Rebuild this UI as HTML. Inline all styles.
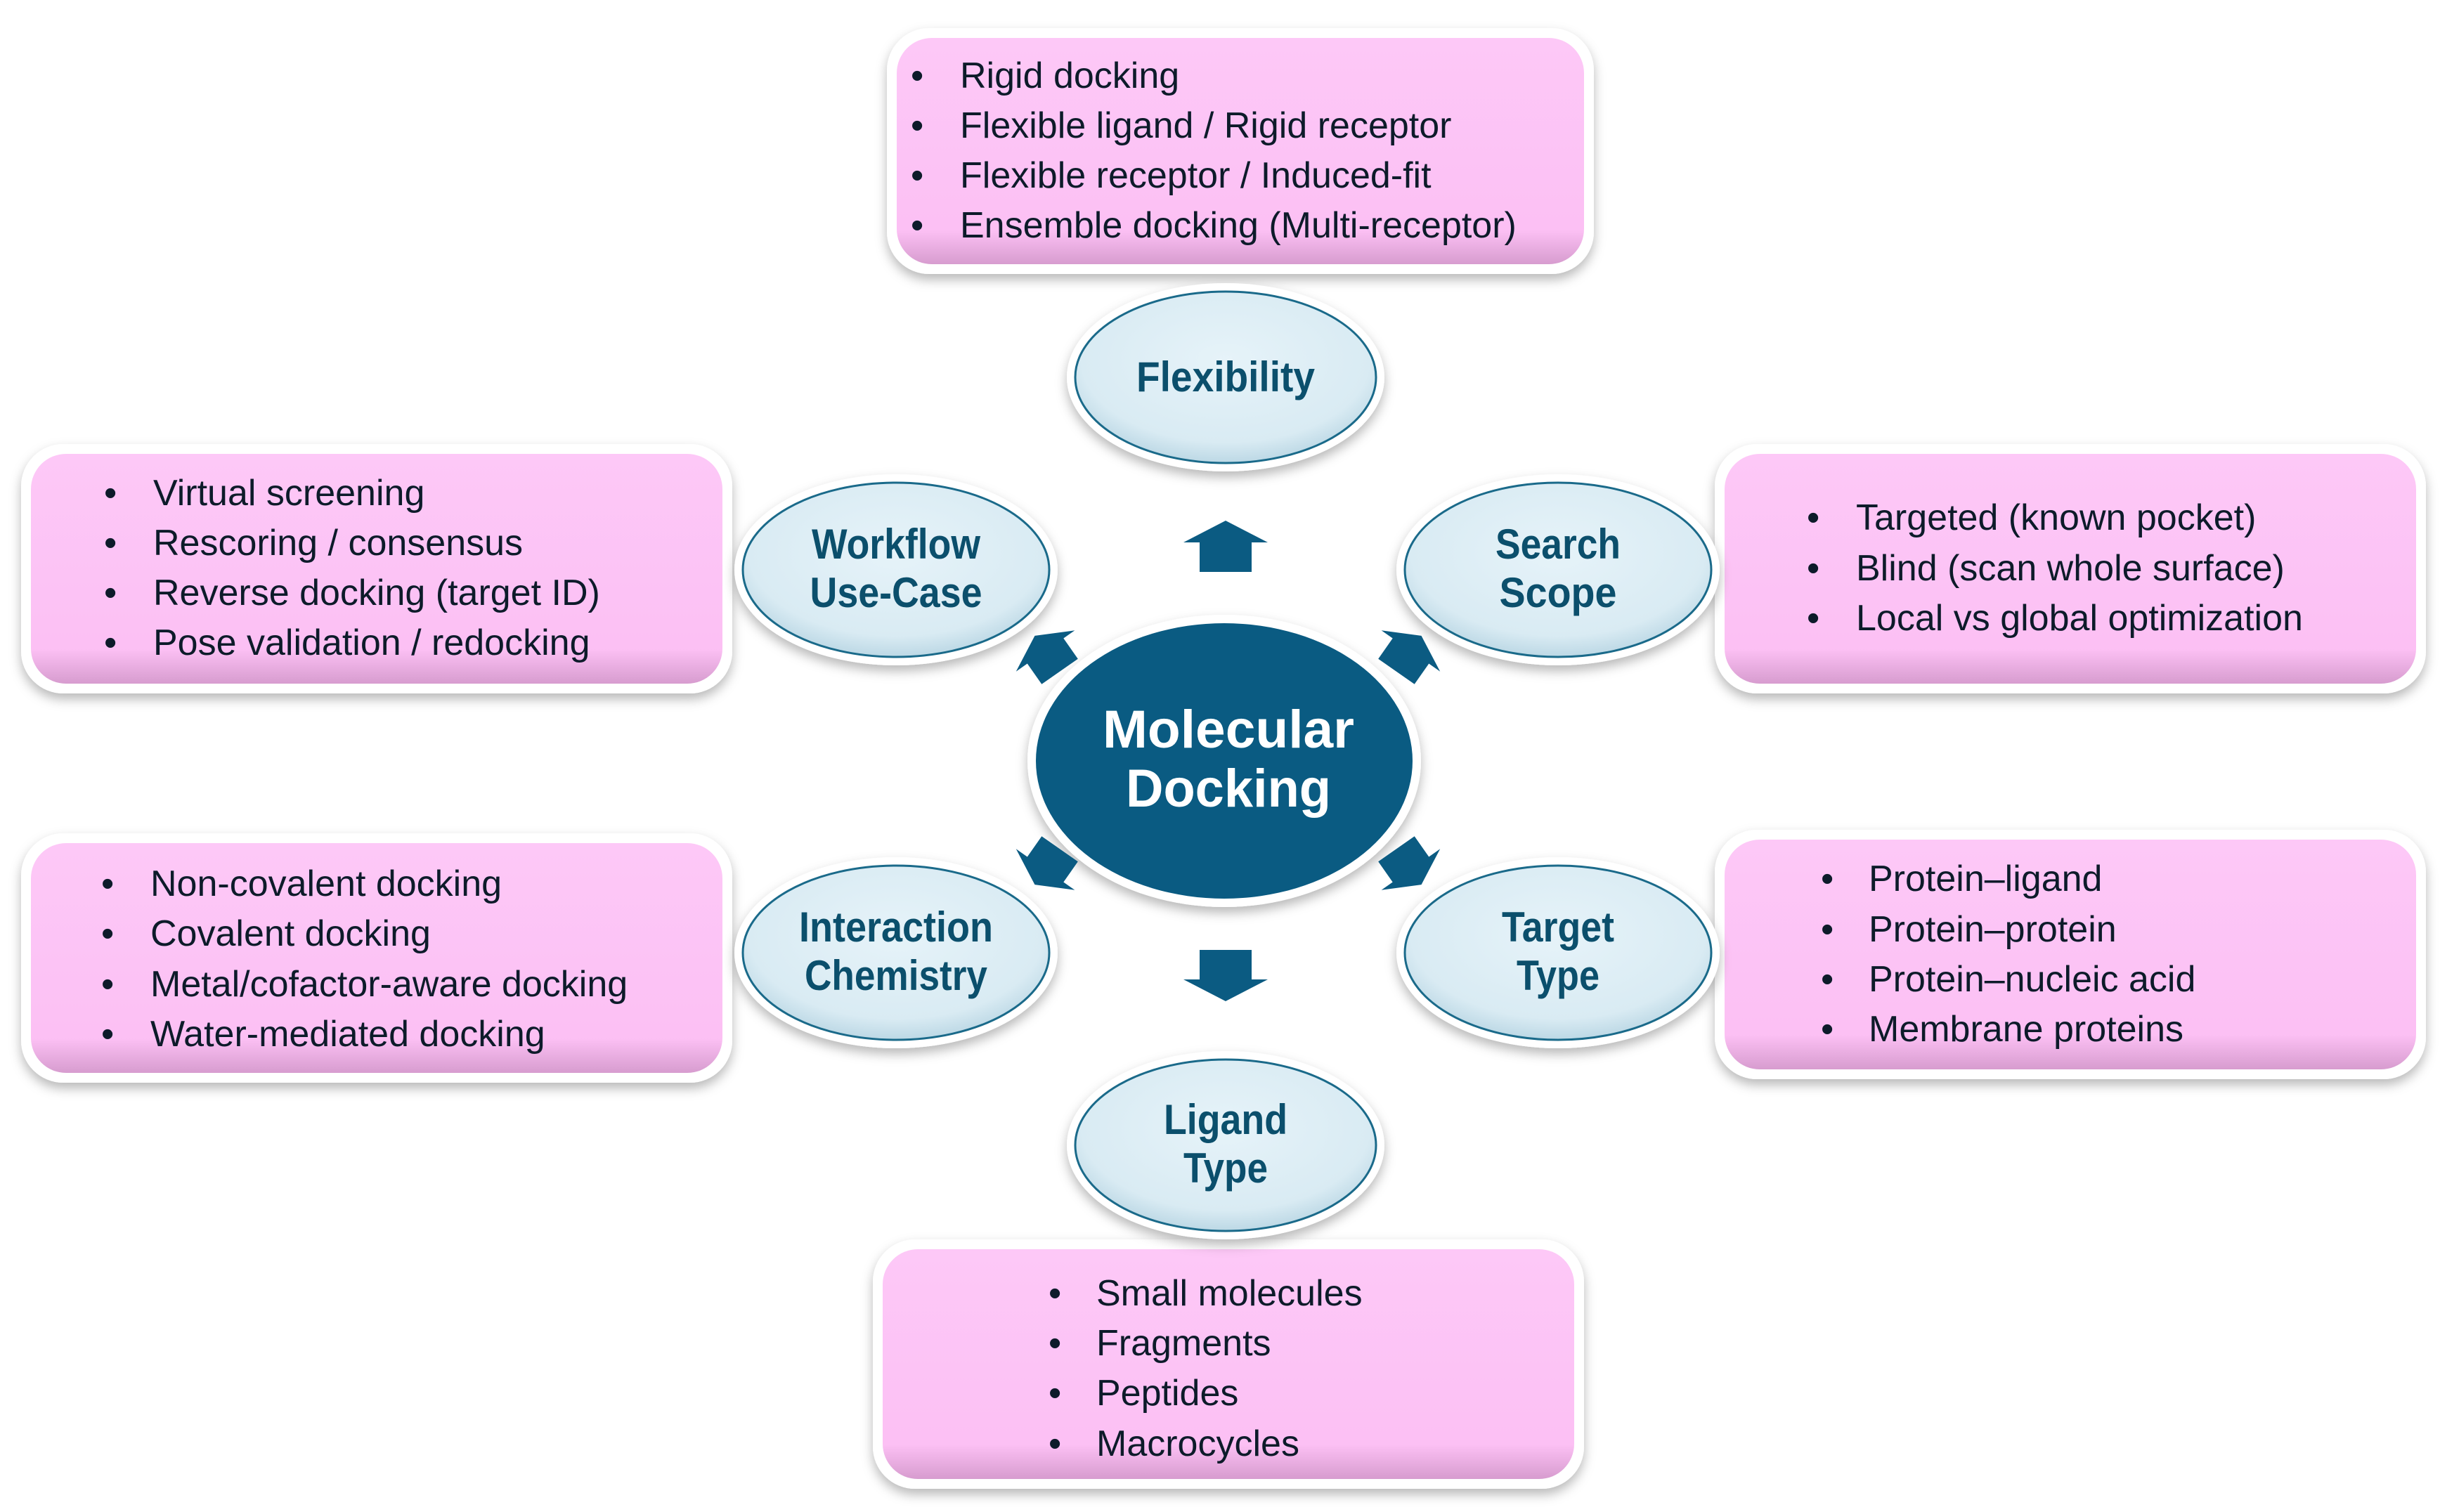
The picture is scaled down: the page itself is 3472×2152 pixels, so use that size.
<!DOCTYPE html>
<html><head><meta charset="utf-8"><style>
html,body{margin:0;padding:0;background:#fff;}
svg{display:block;}
.b{font-family:"Liberation Sans",sans-serif;font-size:52px;fill:#0d1b2a;}
.l{font-family:"Liberation Sans",sans-serif;font-weight:bold;font-size:60px;fill:#0b4f6c;}
.c{font-family:"Liberation Sans",sans-serif;font-weight:bold;font-size:76px;fill:#fff;}
</style></head><body>
<svg width="3472" height="2152" viewBox="0 0 3472 2152" xmlns="http://www.w3.org/2000/svg">
<defs>
<filter id="sh" x="-10%" y="-10%" width="120%" height="130%"><feDropShadow dx="0" dy="8" stdDeviation="8" flood-color="#000" flood-opacity="0.28"/></filter>
<linearGradient id="pk" x1="0" y1="0" x2="0" y2="1"><stop offset="0" stop-color="#fdc8f7"/><stop offset="0.85" stop-color="#fcc0f4"/><stop offset="1" stop-color="#d79ccf"/></linearGradient>
<radialGradient id="bl" cx="0.5" cy="0.4" r="0.6"><stop offset="0" stop-color="#e6f3f9"/><stop offset="0.8" stop-color="#d9ebf3"/><stop offset="1" stop-color="#bcd8e5"/></radialGradient>
<g id="arr"><polygon points="0,-36 60,-5 37,-5 37,37 -37,37 -37,-5 -60,-5" fill="#0b5b82"/></g>
</defs>

<!-- boxes -->
<g filter="url(#sh)">
<rect x="1262" y="40" width="1006" height="350" rx="60" fill="#fff"/>
<rect x="30" y="632" width="1012" height="355" rx="60" fill="#fff"/>
<rect x="30" y="1186" width="1012" height="355" rx="60" fill="#fff"/>
<rect x="2440" y="632" width="1012" height="355" rx="60" fill="#fff"/>
<rect x="2440" y="1181" width="1012" height="355" rx="60" fill="#fff"/>
<rect x="1242" y="1764" width="1012" height="355" rx="60" fill="#fff"/>
</g>
<rect x="1276" y="54" width="978" height="322" rx="50" fill="url(#pk)"/>
<rect x="44" y="646" width="984" height="327" rx="50" fill="url(#pk)"/>
<rect x="44" y="1200" width="984" height="327" rx="50" fill="url(#pk)"/>
<rect x="2454" y="646" width="984" height="327" rx="50" fill="url(#pk)"/>
<rect x="2454" y="1195" width="984" height="327" rx="50" fill="url(#pk)"/>
<rect x="1256" y="1778" width="984" height="327" rx="50" fill="url(#pk)"/>

<!-- box text -->
<g class="b">
<text x="1296" y="125">•</text><text x="1366" y="125">Rigid docking</text>
<text x="1296" y="196">•</text><text x="1366" y="196">Flexible ligand / Rigid receptor</text>
<text x="1296" y="267">•</text><text x="1366" y="267">Flexible receptor / Induced-fit</text>
<text x="1296" y="338">•</text><text x="1366" y="338">Ensemble docking (Multi-receptor)</text>

<text x="148" y="719">•</text><text x="218" y="719">Virtual screening</text>
<text x="148" y="790">•</text><text x="218" y="790">Rescoring / consensus</text>
<text x="148" y="861">•</text><text x="218" y="861">Reverse docking (target ID)</text>
<text x="148" y="932">•</text><text x="218" y="932">Pose validation / redocking</text>

<text x="144" y="1275">•</text><text x="214" y="1275">Non-covalent docking</text>
<text x="144" y="1346">•</text><text x="214" y="1346">Covalent docking</text>
<text x="144" y="1418">•</text><text x="214" y="1418">Metal/cofactor-aware docking</text>
<text x="144" y="1489">•</text><text x="214" y="1489">Water-mediated docking</text>

<text x="2571" y="754">•</text><text x="2641" y="754">Targeted (known pocket)</text>
<text x="2571" y="826">•</text><text x="2641" y="826">Blind (scan whole surface)</text>
<text x="2571" y="897">•</text><text x="2641" y="897">Local vs global optimization</text>

<text x="2591" y="1268">•</text><text x="2659" y="1268">Protein–ligand</text>
<text x="2591" y="1340">•</text><text x="2659" y="1340">Protein–protein</text>
<text x="2591" y="1411">•</text><text x="2659" y="1411">Protein–nucleic acid</text>
<text x="2591" y="1482">•</text><text x="2659" y="1482">Membrane proteins</text>

<text x="1492" y="1858">•</text><text x="1560" y="1858">Small molecules</text>
<text x="1492" y="1929">•</text><text x="1560" y="1929">Fragments</text>
<text x="1492" y="2000">•</text><text x="1560" y="2000">Peptides</text>
<text x="1492" y="2072">•</text><text x="1560" y="2072">Macrocycles</text>
</g>

<!-- ellipses -->
<g filter="url(#sh)">
<ellipse cx="1744" cy="537" rx="226" ry="134" fill="#fff"/>
<ellipse cx="1275" cy="811" rx="230" ry="136" fill="#fff"/>
<ellipse cx="2217" cy="811" rx="230" ry="136" fill="#fff"/>
<ellipse cx="1275" cy="1356" rx="230" ry="136" fill="#fff"/>
<ellipse cx="2217" cy="1356" rx="230" ry="136" fill="#fff"/>
<ellipse cx="1744" cy="1630" rx="226" ry="134" fill="#fff"/>
<ellipse cx="1742" cy="1083" rx="280" ry="208" fill="#fff"/>
</g>
<g fill="url(#bl)" stroke="#1a6a8a" stroke-width="3">
<ellipse cx="1744" cy="537" rx="214" ry="122"/>
<ellipse cx="1275" cy="811" rx="218" ry="124"/>
<ellipse cx="2217" cy="811" rx="218" ry="124"/>
<ellipse cx="1275" cy="1356" rx="218" ry="124"/>
<ellipse cx="2217" cy="1356" rx="218" ry="124"/>
<ellipse cx="1744" cy="1630" rx="214" ry="122"/>
</g>
<ellipse cx="1742" cy="1083" rx="268" ry="196" fill="#0a5b82"/>

<g class="l" text-anchor="middle" lengthAdjust="spacingAndGlyphs">
<text x="1744" y="557" textLength="254" lengthAdjust="spacingAndGlyphs">Flexibility</text>
<text x="1275" y="795" textLength="240" lengthAdjust="spacingAndGlyphs">Workflow</text>
<text x="1275" y="864" textLength="245" lengthAdjust="spacingAndGlyphs">Use-Case</text>
<text x="2217" y="795" textLength="178" lengthAdjust="spacingAndGlyphs">Search</text>
<text x="2217" y="864" textLength="167" lengthAdjust="spacingAndGlyphs">Scope</text>
<text x="1275" y="1340" textLength="276" lengthAdjust="spacingAndGlyphs">Interaction</text>
<text x="1275" y="1409" textLength="260" lengthAdjust="spacingAndGlyphs">Chemistry</text>
<text x="2217" y="1340" textLength="160" lengthAdjust="spacingAndGlyphs">Target</text>
<text x="2217" y="1409" textLength="118" lengthAdjust="spacingAndGlyphs">Type</text>
<text x="1744" y="1614" textLength="176" lengthAdjust="spacingAndGlyphs">Ligand</text>
<text x="1744" y="1683" textLength="120" lengthAdjust="spacingAndGlyphs">Type</text>
</g>
<g class="c" text-anchor="middle">
<text x="1748" y="1064" textLength="358" lengthAdjust="spacingAndGlyphs">Molecular</text>
<text x="1748" y="1148" textLength="292" lengthAdjust="spacingAndGlyphs">Docking</text>
</g>

<!-- arrows -->
<use href="#arr" transform="translate(1744,777)"/>
<use href="#arr" transform="translate(1744,1389) rotate(180)"/>
<use href="#arr" transform="translate(1490,930) rotate(-35) scale(0.85)"/>
<use href="#arr" transform="translate(2005,930) rotate(35) scale(0.85)"/>
<use href="#arr" transform="translate(1490,1234) rotate(-145) scale(0.85)"/>
<use href="#arr" transform="translate(2005,1234) rotate(145) scale(0.85)"/>
</svg>
</body></html>
